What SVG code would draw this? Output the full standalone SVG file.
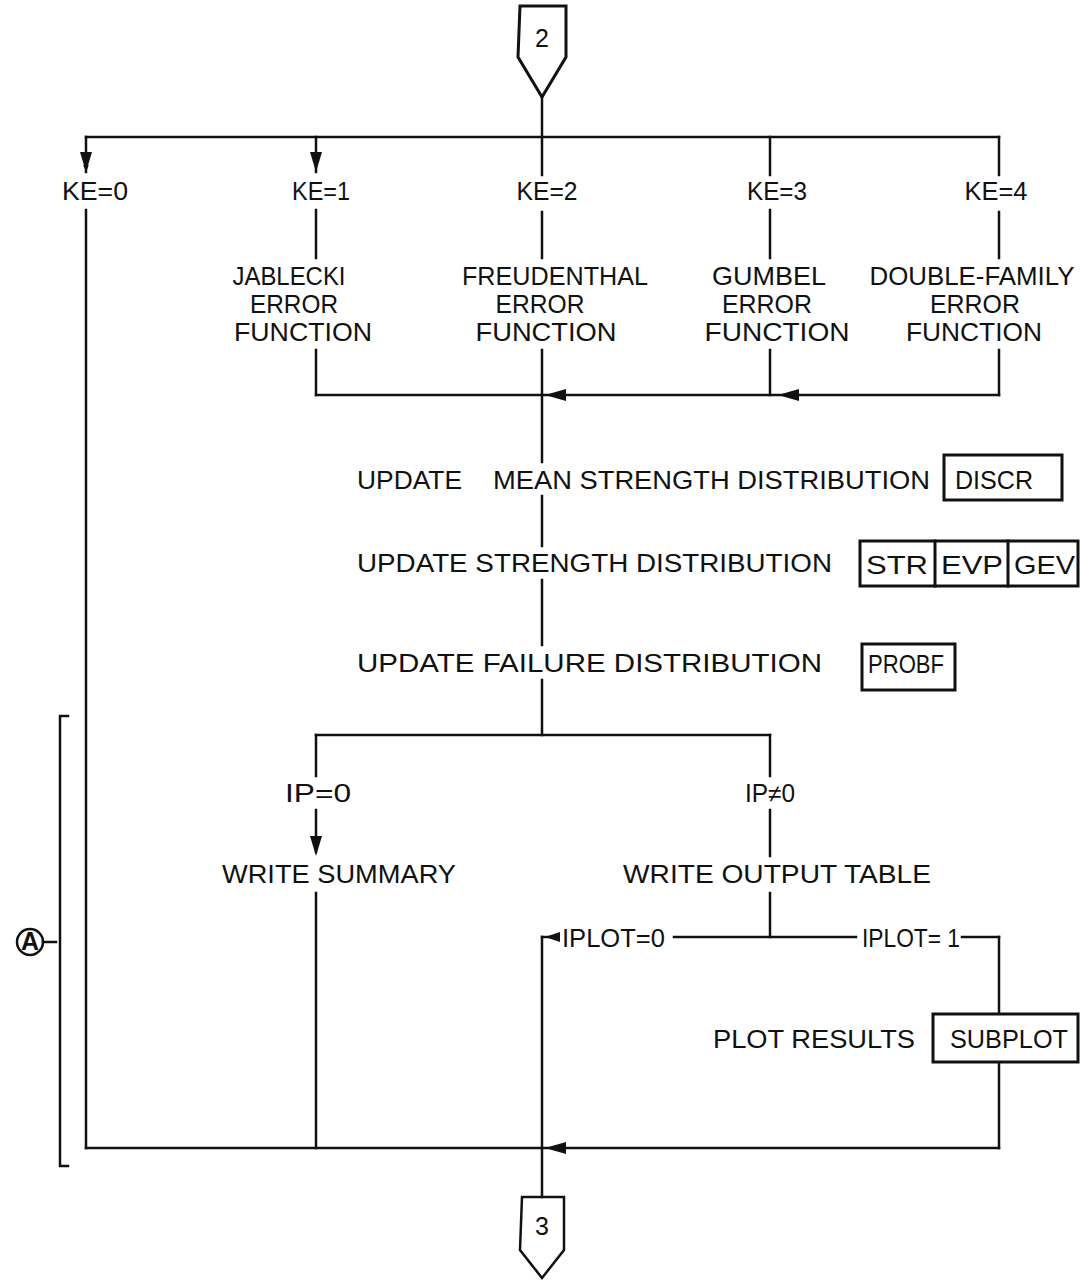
<svg xmlns="http://www.w3.org/2000/svg" width="1080" height="1280" viewBox="0 0 1080 1280">
<defs>
<style>
.t{font-family:"Liberation Sans","DejaVu Sans",sans-serif;font-size:25px;fill:#111;}
.c{text-anchor:middle;}
.ln{stroke:#111;stroke-width:2.5;fill:none;stroke-linecap:square;}
.bx{stroke:#111;stroke-width:3;fill:#fff;}
</style>
<marker id="ah" viewBox="0 0 10 10" refX="10" refY="5" markerWidth="7" markerHeight="7" orient="auto-start-reverse" markerUnits="userSpaceOnUse">
<path d="M0,1 L10,5 L0,9 Z" fill="#111"/>
</marker>
<marker id="ahb" viewBox="0 0 20 10" refX="2" refY="5" markerWidth="18" markerHeight="9" orient="auto" markerUnits="userSpaceOnUse">
<path d="M0,5 L20,1 L20,9 Z" fill="#111"/>
</marker>
</defs>
<rect width="1080" height="1280" fill="#fff"/>

<g id="connectors">
<!-- entry -->
<line class="ln" x1="542" y1="97" x2="542" y2="175"/>
<line class="ln" x1="86" y1="137" x2="999" y2="137"/>
<line class="ln" x1="86" y1="137" x2="86" y2="172" marker-end="url(#ah)"/>
<path d="M80,152 L92,152 L86,172 Z" fill="#111"/>
<line class="ln" x1="316" y1="137" x2="316" y2="172"/>
<path d="M310,152 L322,152 L316,172 Z" fill="#111"/>
<line class="ln" x1="770" y1="137" x2="770" y2="175"/>
<line class="ln" x1="999" y1="137" x2="999" y2="175"/>
<!-- below KE -->
<line class="ln" x1="86" y1="210" x2="86" y2="1148"/>
<line class="ln" x1="316" y1="210" x2="316" y2="258"/>
<line class="ln" x1="542" y1="212" x2="542" y2="258"/>
<line class="ln" x1="770" y1="210" x2="770" y2="258"/>
<line class="ln" x1="999" y1="212" x2="999" y2="258"/>
<!-- merge -->
<line class="ln" x1="316" y1="350" x2="316" y2="395"/>
<line class="ln" x1="542" y1="350" x2="542" y2="462"/>
<line class="ln" x1="770" y1="350" x2="770" y2="395"/>
<line class="ln" x1="999" y1="350" x2="999" y2="395"/>
<line class="ln" x1="316" y1="395" x2="999" y2="395"/>
<path d="M545,395 L566,389 L566,401 Z" fill="#111"/>
<path d="M778,395 L799,389 L799,401 Z" fill="#111"/>
<!-- main trunk -->
<line class="ln" x1="542" y1="496" x2="542" y2="546"/>
<line class="ln" x1="542" y1="580" x2="542" y2="645"/>
<line class="ln" x1="542" y1="680" x2="542" y2="735"/>
<line class="ln" x1="316" y1="735" x2="770" y2="735"/>
<line class="ln" x1="316" y1="735" x2="316" y2="776"/>
<line class="ln" x1="770" y1="735" x2="770" y2="776"/>
<!-- IP=0 -->
<line class="ln" x1="316" y1="810" x2="316" y2="852"/>
<path d="M310,836 L322,836 L316,856 Z" fill="#111"/>
<line class="ln" x1="316" y1="893" x2="316" y2="1148"/>
<!-- IP!=0 -->
<line class="ln" x1="770" y1="810" x2="770" y2="856"/>
<line class="ln" x1="770" y1="893" x2="770" y2="937"/>
<line class="ln" x1="674" y1="937" x2="856" y2="937"/>
<line class="ln" x1="962" y1="937" x2="999" y2="937"/>
<line class="ln" x1="999" y1="937" x2="999" y2="1014"/>
<line class="ln" x1="999" y1="1062" x2="999" y2="1148"/>
<line class="ln" x1="542" y1="937" x2="556" y2="937"/>
<path d="M545,937 L560,932 L560,942 Z" fill="#111"/>
<line class="ln" x1="542" y1="937" x2="542" y2="1197"/>
<!-- bottom -->
<line class="ln" x1="86" y1="1148" x2="999" y2="1148"/>
<path d="M545,1148 L566,1142 L566,1154 Z" fill="#111"/>
<!-- bracket A -->
<path class="ln" d="M68,716 L60,716 L60,1166 L68,1166"/>
<line class="ln" x1="43" y1="942" x2="56" y2="942"/>
</g>

<g id="n_start">
<path class="ln" d="M520,6 L566,6 L566,57 L542,97 L518,57 Z" style="stroke-width:3"/>
<text class="t c" x="542" y="47" font-size="26">2</text>
</g>

<g id="n_ke0"><text class="t c" x="95" y="200" textLength="66" lengthAdjust="spacingAndGlyphs">KE=0</text></g>
<g id="n_ke1"><text class="t c" x="321" y="200" textLength="58" lengthAdjust="spacingAndGlyphs">KE=1</text></g>
<g id="n_ke2"><text class="t c" x="547" y="200" textLength="61" lengthAdjust="spacingAndGlyphs">KE=2</text></g>
<g id="n_ke3"><text class="t c" x="777" y="200" textLength="60" lengthAdjust="spacingAndGlyphs">KE=3</text></g>
<g id="n_ke4"><text class="t c" x="996" y="200" textLength="63" lengthAdjust="spacingAndGlyphs">KE=4</text></g>

<g id="n_jablecki">
<text class="t c" x="289" y="285" textLength="113" lengthAdjust="spacingAndGlyphs">JABLECKI</text>
<text class="t c" x="294" y="313" textLength="88" lengthAdjust="spacingAndGlyphs">ERROR</text>
<text class="t c" x="303" y="341" textLength="138" lengthAdjust="spacingAndGlyphs">FUNCTION</text>
</g>
<g id="n_freudenthal">
<text class="t c" x="555" y="285" textLength="186" lengthAdjust="spacingAndGlyphs">FREUDENTHAL</text>
<text class="t c" x="540" y="313" textLength="89" lengthAdjust="spacingAndGlyphs">ERROR</text>
<text class="t c" x="546" y="341" textLength="141" lengthAdjust="spacingAndGlyphs">FUNCTION</text>
</g>
<g id="n_gumbel">
<text class="t c" x="769" y="285" textLength="114" lengthAdjust="spacingAndGlyphs">GUMBEL</text>
<text class="t c" x="767" y="313" textLength="90" lengthAdjust="spacingAndGlyphs">ERROR</text>
<text class="t c" x="777" y="341" textLength="145" lengthAdjust="spacingAndGlyphs">FUNCTION</text>
</g>
<g id="n_double">
<text class="t c" x="972" y="285" textLength="205" lengthAdjust="spacingAndGlyphs">DOUBLE-FAMILY</text>
<text class="t c" x="975" y="313" textLength="90" lengthAdjust="spacingAndGlyphs">ERROR</text>
<text class="t c" x="974" y="341" textLength="136" lengthAdjust="spacingAndGlyphs">FUNCTION</text>
</g>

<g id="n_mean">
<text class="t" x="357" y="489" textLength="105" lengthAdjust="spacingAndGlyphs">UPDATE</text>
<text class="t" x="493" y="489" textLength="437" lengthAdjust="spacingAndGlyphs">MEAN STRENGTH DISTRIBUTION</text>
<rect class="bx" x="944" y="455" width="118" height="45"/>
<text class="t" x="955" y="489" textLength="78" lengthAdjust="spacingAndGlyphs">DISCR</text>
</g>
<g id="n_strength">
<text class="t" x="357" y="572" textLength="475" lengthAdjust="spacingAndGlyphs">UPDATE STRENGTH DISTRIBUTION</text>
<rect class="bx" x="860" y="541" width="218" height="45"/>
<line class="ln" x1="935" y1="541" x2="935" y2="586" style="stroke-width:3"/>
<line class="ln" x1="1008" y1="541" x2="1008" y2="586" style="stroke-width:3"/>
<text class="t" x="866" y="574" textLength="62" lengthAdjust="spacingAndGlyphs">STR</text>
<text class="t" x="941" y="574" textLength="62" lengthAdjust="spacingAndGlyphs">EVP</text>
<text class="t" x="1014" y="574" textLength="61" lengthAdjust="spacingAndGlyphs">GEV</text>
</g>
<g id="n_failure">
<text class="t" x="357" y="672" textLength="465" lengthAdjust="spacingAndGlyphs">UPDATE FAILURE DISTRIBUTION</text>
<rect class="bx" x="862" y="644" width="93" height="46"/>
<text class="t" x="868" y="673" textLength="76" lengthAdjust="spacingAndGlyphs">PROBF</text>
</g>

<g id="n_ip0"><text class="t c" x="318" y="802" textLength="66" lengthAdjust="spacingAndGlyphs">IP=0</text></g>
<g id="n_ipn0"><text class="t c" x="770" y="802" textLength="50" lengthAdjust="spacingAndGlyphs">IP≠0</text></g>
<g id="n_summary"><text class="t c" x="339" y="883" textLength="234" lengthAdjust="spacingAndGlyphs">WRITE SUMMARY</text></g>
<g id="n_table"><text class="t c" x="777" y="883" textLength="308" lengthAdjust="spacingAndGlyphs">WRITE OUTPUT TABLE</text></g>
<g id="n_iplot0"><text class="t" x="562" y="947" textLength="103" lengthAdjust="spacingAndGlyphs">IPLOT=0</text></g>
<g id="n_iplot1"><text class="t" x="862" y="947" textLength="98" lengthAdjust="spacingAndGlyphs">IPLOT= 1</text></g>
<g id="n_plot">
<text class="t" x="713" y="1048" textLength="202" lengthAdjust="spacingAndGlyphs">PLOT RESULTS</text>
<rect class="bx" x="933" y="1014" width="145" height="48"/>
<text class="t" x="950" y="1048" textLength="118" lengthAdjust="spacingAndGlyphs">SUBPLOT</text>
</g>

<g id="n_A">
<circle cx="30" cy="942" r="13" fill="none" stroke="#111" stroke-width="2.5"/>
<text class="t c" x="30" y="950" font-size="20" font-weight="bold">A</text>
</g>

<g id="n_end">
<path class="ln" d="M522,1197 L564,1197 L564,1250 L542,1278 L520,1250 Z" style="stroke-width:2.5"/>
<text class="t c" x="542" y="1235" font-size="25">3</text>
</g>
</svg>
